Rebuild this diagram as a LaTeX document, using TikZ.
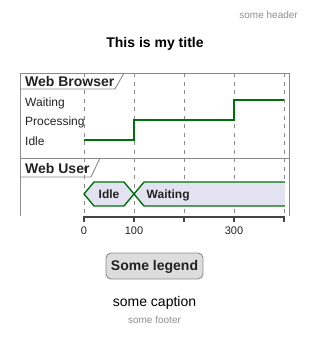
\documentclass[tikz,border=0pt]{standalone}
\usepackage{fontspec}
\setmainfont{Liberation Sans}
\definecolor{framegray}{HTML}{8A8A8A}
\definecolor{gridgray}{HTML}{8A8A8A}
\definecolor{sigGreen}{HTML}{00700A}
\definecolor{txt}{HTML}{222222}
\definecolor{hdr}{HTML}{8E8E8E}
\definecolor{hexfill}{HTML}{E2E2F0}
\definecolor{legfill}{HTML}{DDDDDD}
\definecolor{axisgray}{HTML}{444444}
\begin{document}
\begin{tikzpicture}[x=1pt,y=-1pt,
  frameline/.style={draw=framegray,line width=0.9pt},
  gridline/.style={draw=gridgray,line width=0.7pt,dash pattern=on 4pt off 4.5pt},
  sig/.style={draw=sigGreen,line width=2pt},
  hexline/.style={draw=sigGreen,line width=1.4pt},
  statelbl/.style={anchor=base west,inner sep=0,font=\fontsize{12}{14}\selectfont,text=txt},
  rowlbl/.style={anchor=base west,inner sep=0,font=\bfseries\fontsize{14}{16}\selectfont,text=txt},
  hexlbl/.style={anchor=base,inner sep=0,font=\bfseries\fontsize{12}{14}\selectfont,text=txt},
  ticklbl/.style={anchor=base,inner sep=0,font=\fontsize{11}{13}\selectfont,text=txt},
  small/.style={inner sep=0,font=\fontsize{10}{12}\selectfont,text=hdr}]
\useasboundingbox (0,0) rectangle (309,337);

% header and title
\node[small,anchor=base east] (header) at (298,18.5) {some header};
\node[anchor=base,inner sep=0,font=\bfseries\fontsize{14}{16}\selectfont] (title) at (155,48) {This is my title};

% grid lines
\foreach \x/\n in {84/g0,134/g1,184/g2,234/g3,284/g4}{
  \coordinate (\n t) at (\x,73);
  \coordinate (\n b) at (\x,216);
  \draw[gridline] (\n t) -- (\n b);
}

% frame
\coordinate (ftl) at (20,73);
\coordinate (ftr) at (289,73);
\coordinate (fbl) at (20,216);
\coordinate (fbr) at (289,216);
\coordinate (fml) at (20,158);
\coordinate (fmr) at (289,158);
\draw[frameline] (fbl) -- (ftl) -- (ftr) -- (fbr);
\draw[frameline] (fml) -- (fmr);

% Web Browser label tab
\coordinate (wb1) at (20,89);
\coordinate (wb2) at (115,89);
\coordinate (wb3) at (124,73);
\draw[frameline] (wb1) -- (wb2) -- (wb3);
\node[rowlbl] (wblabel) at (25,86.5) {Web Browser};

% states
\node[statelbl] (sWaiting) at (25,106.5) {Waiting};
\node[statelbl] (sProc) at (25,125.5) {Processing};
\node[statelbl] (sIdle) at (25,145) {Idle};

% signal
\coordinate (p0) at (84,140);
\coordinate (p1) at (134,140);
\coordinate (p2) at (134,120);
\coordinate (p3) at (234,120);
\coordinate (p4) at (234,100);
\coordinate (p5) at (284,100);
\draw[sig] (p0) -- (p1) -- (p2) -- (p3) -- (p4) -- (p5);

% Web User label tab
\coordinate (wu1) at (20,177);
\coordinate (wu2) at (91,177);
\coordinate (wu3) at (100,158);
\draw[frameline] (wu1) -- (wu2) -- (wu3);
\node[rowlbl] (wulabel) at (25,173.3) {Web User};

% hexagon states
\draw[hexline,fill=hexfill] (84,194) -- (94,182) -- (124,182) -- (134,194) -- (124,206) -- (94,206) -- cycle;
\fill[hexfill] (134,194) -- (144,182) -- (285,182) -- (285,206) -- (144,206) -- cycle;
\draw[hexline] (285,182) -- (144,182) -- (134,194) -- (144,206) -- (285,206);
\node[hexlbl] (hIdle) at (109,198.3) {Idle};
\node[hexlbl,anchor=base west] (hWaiting) at (146.5,198.3) {Waiting};

% axis
\coordinate (a0) at (84,217);
\coordinate (a1) at (284,217);
\draw[draw=axisgray,line width=2pt] (a0) -- (a1);
\foreach \x in {84,134,184,234,284}{
  \draw[draw=axisgray,line width=1.8pt] (\x,216) -- (\x,222);
}
\node[ticklbl] (t0) at (84,234.3) {0};
\node[ticklbl] (t100) at (134,234.3) {100};
\node[ticklbl] (t300) at (234,234.3) {300};

% legend
\draw[draw=framegray,line width=0.9pt,fill=legfill,rounded corners=5pt] (106,253) rectangle (203,279);
\node[anchor=base,inner sep=0,font=\bfseries\fontsize{14}{16}\selectfont,text=txt] (legend) at (154.5,270.5) {Some legend};

% caption and footer
\node[anchor=base,inner sep=0,font=\fontsize{14}{16}\selectfont] (caption) at (154.5,306) {some caption};
\node[small,anchor=base] (footer) at (154.5,323.3) {some footer};
\end{tikzpicture}
\end{document}
